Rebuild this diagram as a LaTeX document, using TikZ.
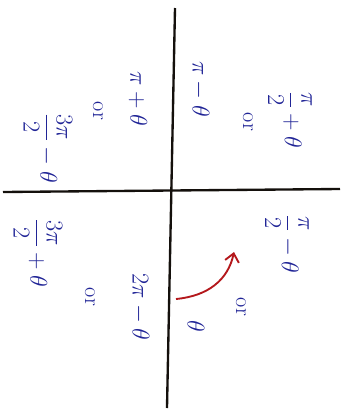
\documentclass[tikz,border=0pt]{standalone}
\usepackage{amsmath}
\usepackage{tikz}
\usetikzlibrary{arrows.meta, positioning}
\definecolor{inkblue}{RGB}{32, 36, 150}
\definecolor{inkred}{RGB}{180, 24, 28}
\definecolor{inkaxis}{RGB}{20, 16, 12}

\begin{document}
\begin{tikzpicture}[
    x=0.03cm, y=-0.03cm,
    angle/.style={text=inkblue, rotate=-90, inner sep=1pt,
      font=\fontsize{21}{24}\selectfont},
    word/.style={text=inkblue, rotate=-90, inner sep=1pt,
      font=\fontsize{19}{22}\selectfont},
    axis/.style={draw=inkaxis, line width=2pt},
    turn/.style={draw=inkred, line width=1.6pt,
      -{Straight Barb[length=7pt, width=12pt, line width=1.6pt]}},
  ]
  \useasboundingbox (0,0) rectangle (350,417);

  % axes
  \coordinate (ytop) at (175,8);
  \coordinate (ybot) at (167,408);
  \coordinate (xleft) at (3,192);
  \coordinate (xright) at (340,189);
  \draw[axis] (ytop) -- (ybot);
  \draw[axis] (xleft) -- (xright);

  % upper left
  \node[angle] (piplus) at (138,99) {$\pi+\theta$};
  \node[word] (orA) at (98,111) {or};
  \node[angle] (threeminus) at (48,148) {$\dfrac{3\pi}{2}-\theta$};

  % upper right
  \node[angle] (piminus) at (200,89) {$\pi-\theta$};
  \node[word] (orB) at (248,122) {or};
  \node[angle] (halfplus) at (290,120) {$\dfrac{\pi}{2}+\theta$};

  % lower left
  \node[angle] (threeplus) at (38,253) {$\dfrac{3\pi}{2}+\theta$};
  \node[word] (orC) at (90,297) {or};
  \node[angle] (twopiminus) at (140,307) {$2\pi-\theta$};

  % lower right
  \node[angle] (halfminus) at (287,244) {$\dfrac{\pi}{2}-\theta$};
  \node[word] (orD) at (241,307) {or};
  \node[angle] (theta) at (196,326) {$\theta$};

  % rotation
  \coordinate (turnstart) at (176,299);
  \coordinate (turnend) at (234,252);
  \draw[turn] (turnstart) .. controls (208,296) and (228,280) .. (turnend);
\end{tikzpicture}
\end{document}
